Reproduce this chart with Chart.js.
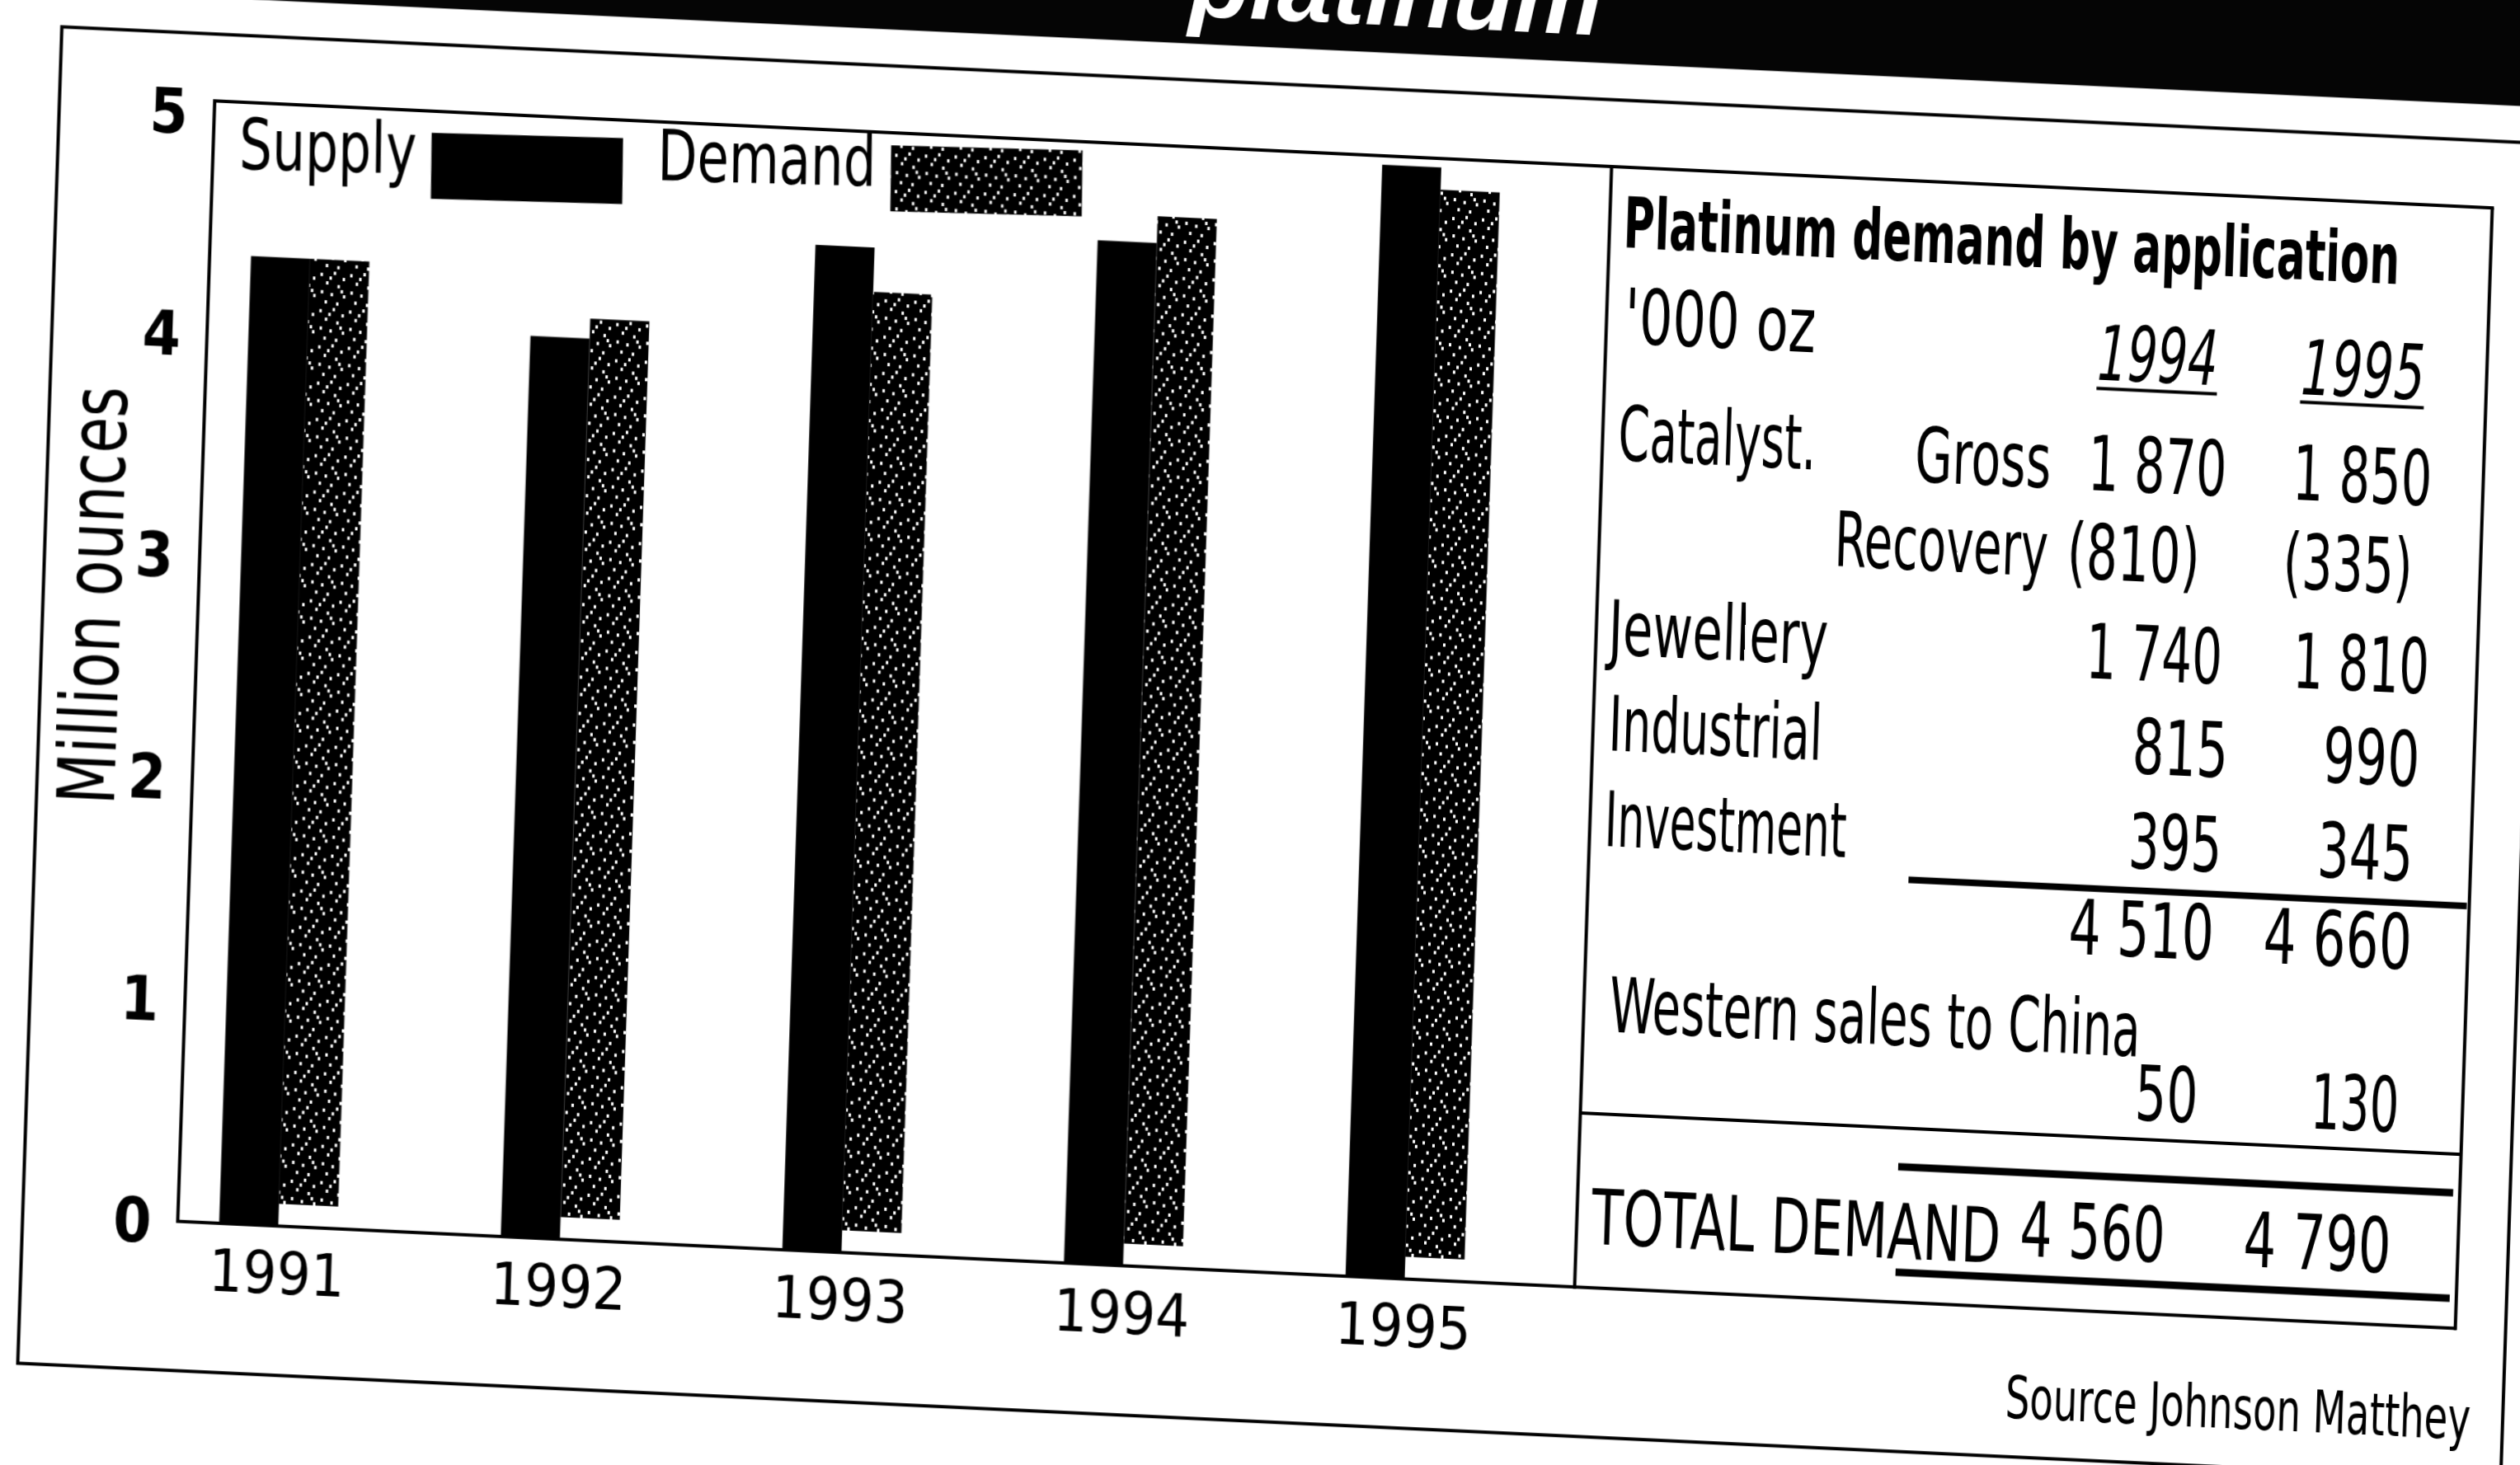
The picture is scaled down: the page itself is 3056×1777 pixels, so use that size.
<!DOCTYPE html>
<html>
<head>
<meta charset="utf-8">
<title>Platinum supply and demand</title>
<script src="https://cdn.jsdelivr.net/npm/chart.js@4.4.1/dist/chart.umd.min.js"></script>
<style>
  html, body { margin:0; padding:0; background:#fff; }
  body { width:3056px; height:1777px; overflow:hidden; position:relative; }
  /* the scanned page sits slightly skewed, so the whole sheet is skewed too */
  #page { position:absolute; left:0; top:0; width:3200px; height:1800px;
          transform-origin:0 0; transform:matrix(1, 0.047, -0.033, 1, 0, 0); }
  #chart { position:absolute; left:0; top:0; }
  #overlay { position:absolute; left:-400px; top:-600px; overflow:visible; }
  #overlay text { fill:#000; font-family:"DejaVu Sans Condensed", "DejaVu Sans", sans-serif; }
</style>
</head>
<body>
<div id="page">
  <canvas id="chart" width="3100" height="1700"></canvas>
  <svg id="overlay" width="3800" height="2500"></svg>
</div>
<script>
const NARROW = '"DejaVu Sans Condensed", "DejaVu Sans", sans-serif';

/* CHART DATA (million ounces) */
const years = [1991, 1992, 1993, 1994, 1995];
const supply = [4.36, 4.06, 4.53, 4.61, 5.01];
const demand = [4.36, 4.15, 4.33, 4.73, 4.91];
const yTicks = [0, 1, 2, 3, 4, 5];

/* TABLE DATA ('000 oz) */
const tableTitle = "Platinum demand by application";
const tableUnit = "'000 oz";
const tableYears = ["1994", "1995"];
const groupLabel = "Catalyst.";
const rowNames = ["Gross", "Recovery", "Jewellery", "Industrial", "Investment", "", "Western sales to China", "TOTAL DEMAND"];
const oz1994 = [1870, -810, 1740, 815, 395, 4510, 50, 4560];
const oz1995 = [1850, -335, 1810, 990, 345, 4660, 130, 4790];
const sourceNote = "Source  Johnson Matthey";
const headline = "platinum";

/* TABLE LAYOUT (page px): positions and printed widths */
const rowLabelPos = [
  { x: 2502, y: 474, anchor: "end" }, { x: 2502, y: 581, anchor: "end" },
  { x: 1973, y: 701 }, { x: 1977, y: 817 }, { x: 1976, y: 933 }, null,
  { x: 1989, y: 1158 }, { x: 1976, y: 1416 }
];
const rowLabelW = [165, 259, 266, 259, 293, 0, 644, 496];
const rowY = [474, 582, 702, 815, 930, 1037, 1235, 1406];
const col1Right = [2715, 2686, 2717, 2728, 2724, 2718, 2705, 2671];
const col2Right = [2964, 2944, 2968, 2960, 2956, 2958, 2949, 2945];
const col1W = [168, 161, 165, 116, 113, 176, 76, 176];
const col2W = [169, 157, 165, 117, 116, 180, 107, 179];
const legendTextW = [215, 265];
const TABLE_RIGHT = 3026;

function fmt(v){
  const a = Math.abs(v);
  const s = a >= 1000 ? Math.floor(a / 1000) + " " + String(a % 1000).padStart(3, "0") : String(a);
  return v < 0 ? "(" + s + ")" : s;
}

function txt(str, x, y, w, o = {}){
  return `<text x="${x}" y="${y}" text-anchor="${o.anchor || "start"}" font-size="${o.size || 92}"` +
    ` textLength="${w}" lengthAdjust="spacingAndGlyphs"` +
    `${o.bold ? ' font-weight="bold"' : ""}${o.italic ? ' font-style="italic"' : ""}>${str}</text>`;
}

function line(x1, y1, x2, y2, w = 4){
  return `<line x1="${x1}" y1="${y1}" x2="${x2}" y2="${y2}" stroke="#000" stroke-width="${w}"/>`;
}

/* HEADLINE BAND, FRAME AND TABLE */
function drawOverlay(){
  let s = '<g transform="translate(400,600)">';
  s += '<rect x="-400" y="-600" width="3800" height="585" fill="#050505"/>';
  s += `<text x="1440" y="-48" font-size="120" font-weight="bold" font-style="italic" style="fill:#fff;font-family:'Liberation Sans',Arial,sans-serif">${headline}</text>`;
  s += '<rect x="76" y="29" width="3011" height="1621" fill="none" stroke="#000" stroke-width="4"/>';

  // table box
  s += line(1958, 110, 1958, 1471);
  s += line(TABLE_RIGHT, 110, TABLE_RIGHT, 1471);
  s += line(1958, 1258, TABLE_RIGHT, 1258);
  s += line(2346, 957, TABLE_RIGHT - 3, 957, 8);
  s += line(2345, 1305, TABLE_RIGHT - 8, 1305, 9);
  s += line(2346, 1433, TABLE_RIGHT - 8, 1433, 9);

  s += txt(tableTitle, 1975, 208, 941, { bold: true, size: 86 });
  s += txt(tableUnit, 1980, 323, 232);
  s += txt(tableYears[0], 2700, 341, 146, { anchor: "end", italic: true });
  s += txt(tableYears[1], 2951, 346, 150, { anchor: "end", italic: true });
  s += line(2554, 351, 2700, 351);
  s += line(2801, 356, 2951, 356);
  s += txt(groupLabel, 1977, 465, 240);

  rowNames.forEach((name, i) => {
    const p = rowLabelPos[i];
    if(p && name) s += txt(name, p.x, p.y, rowLabelW[i], { anchor: p.anchor });
    s += txt(fmt(oz1994[i]), col1Right[i], rowY[i], col1W[i], { anchor: "end" });
    s += txt(fmt(oz1995[i]), col2Right[i], rowY[i], col2W[i], { anchor: "end" });
  });

  s += txt(sourceNote, 3048, 1603, 564, { anchor: "end", size: 72 });
  s += "</g>";
  document.getElementById("overlay").innerHTML = s;
}

/* STIPPLED FILL FOR DEMAND */
function makeStipple(){
  const c = document.createElement("canvas");
  c.width = 36; c.height = 44;
  const g = c.getContext("2d");
  g.fillStyle = "#000";
  g.fillRect(0, 0, 36, 44);
  g.fillStyle = "#fff";
  [[3,4],[19,2],[30,9],[10,14],[24,18],[4,25],[16,28],[31,30],[9,37],[23,39],[28,24],[14,8]]
    .forEach(([x, y]) => g.fillRect(x, y, 3, 4));
  return g.createPattern(c, "repeat");
}

/* TOP RULE, IN-PLOT LEGEND AND AXIS TITLE */
const framePlugin = {
  id: "frame",
  afterDraw(chart){
    const { ctx, chartArea: a, scales: { y } } = chart;
    ctx.save();
    ctx.strokeStyle = "#000";
    ctx.lineWidth = 4;
    ctx.beginPath();
    ctx.moveTo(a.left - 2, a.top);
    ctx.lineTo(a.right + 2, a.top);
    ctx.stroke();

    // legend sits inside the plot: label first, then its swatch
    ctx.save();
    ctx.font = "86px " + NARROW;
    ctx.textBaseline = "alphabetic";
    ctx.translate(a.left + 32, a.top + 81);
    ctx.rotate(-0.02);
    let x = 0;
    chart.data.datasets.forEach((ds, i) => {
      const w = ctx.measureText(ds.label).width;
      ctx.save();
      ctx.translate(x, 0);
      ctx.scale(legendTextW[i] / w, 1);
      ctx.fillStyle = "#000";
      ctx.fillText(ds.label, 0, 0);
      ctx.restore();
      x += legendTextW[i] + 18;
      ctx.fillStyle = ds.backgroundColor;
      ctx.fillRect(x, -50, 232, 80);
      x += 232 + 42;
    });
    ctx.restore();

    // y axis title
    ctx.fillStyle = "#000";
    ctx.font = "96px " + NARROW;
    const t = "Million ounces";
    const tw = ctx.measureText(t).width;
    ctx.translate(a.left - 119, y.getPixelForValue(2.8));
    ctx.rotate(-Math.PI / 2);
    ctx.scale(507 / tw, 1);
    ctx.textAlign = "center";
    ctx.textBaseline = "middle";
    ctx.fillText(t, 0, 0);
    ctx.restore();
  }
};

/* CHART */
function drawChart(){
  Chart.defaults.font.family = NARROW;
  Chart.defaults.color = "#000";
  new Chart(document.getElementById("chart"), {
    type: "bar",
    data: {
      labels: years,
      datasets: [
        { label: "Supply", data: supply, backgroundColor: "#000", borderWidth: 0,
          categoryPercentage: 0.42, barPercentage: 1 },
        { label: "Demand", data: demand, backgroundColor: makeStipple(), borderWidth: 0, base: 0.1,
          categoryPercentage: 0.42, barPercentage: 1 }
      ]
    },
    options: {
      responsive: false,
      animation: false,
      devicePixelRatio: 1,
      layout: { padding: { top: 110, right: 3100 - TABLE_RIGHT, bottom: 0, left: 0 } },
      plugins: { legend: { display: false }, tooltip: { enabled: false } },
      scales: {
        x: {
          type: "linear", offset: false, min: 1990.643, max: 1998.731,
          afterFit: s => { s.height = 231; },
          afterBuildTicks: s => { s.ticks = years.map(v => ({ value: v })); },
          grid: { display: false, drawTicks: false },
          border: { display: true, color: "#000", width: 4 },
          ticks: { font: { size: 72 }, color: "#000", padding: 20, maxRotation: 0, autoSkip: false,
                   callback: v => String(v) }
        },
        y: {
          min: 0, max: 5.05,
          afterFit: s => { s.width = 264; },
          afterBuildTicks: s => { s.ticks = yTicks.map(v => ({ value: v })); },
          grid: { display: false, drawTicks: false },
          border: { display: true, color: "#000", width: 4 },
          ticks: { font: { size: 74, weight: "bold" }, color: "#000", padding: 32, labelOffset: 8 }
        }
      }
    },
    plugins: [framePlugin]
  });
}

window.onload = function(){
  drawOverlay();
  drawChart();
};
</script>
</body>
</html>
